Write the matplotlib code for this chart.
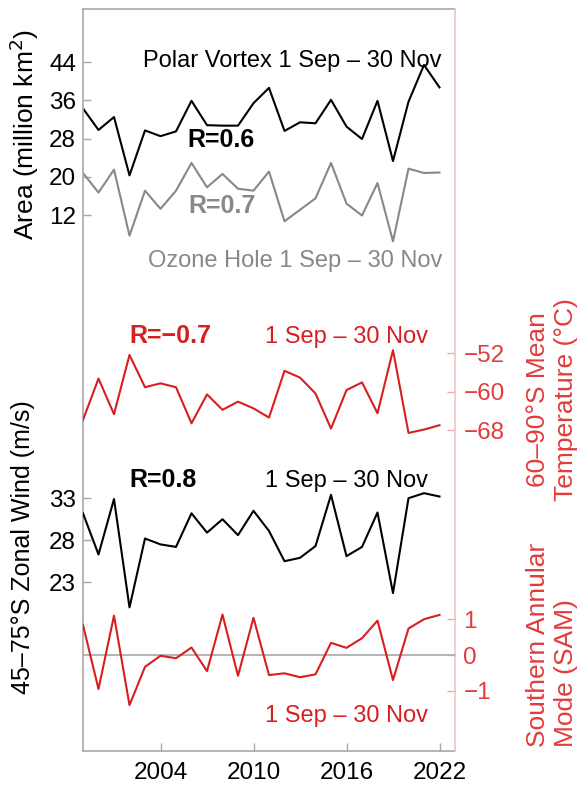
import matplotlib
matplotlib.use('Agg')
import matplotlib.pyplot as plt

plt.rcParams['font.family'] = ['Liberation Sans', 'DejaVu Sans']

# years 1999-2022
years = list(range(1999, 2023))

# polar vortex area and ozone hole area (million km2)
vortex_area = [34.3, 29.8, 32.5, 20.3, 29.7, 28.5, 29.5, 35.9, 30.8, 30.7, 30.7, 35.4,
               38.6, 29.6, 31.4, 31.2, 36.1, 30.5, 27.9, 35.9, 23.3, 35.7, 43.4, 38.7]
ozone_area = [20.8, 16.7, 21.5, 7.7, 17.1, 13.3, 17.1, 22.9, 17.8, 20.6, 17.5, 17.1,
              21.1, 10.7, 13.1, 15.5, 22.9, 14.4, 11.9, 18.7, 6.5, 21.7, 20.8, 20.9]
# 60-90S mean temperature (C)
temperature = [-65.9, -57.3, -64.7, -52.4, -59.1, -58.3, -59.1, -66.6, -60.6, -63.8, -62.1, -63.5,
               -65.4, -55.7, -57.1, -60.4, -67.7, -59.7, -58.1, -64.5, -51.4, -68.6, -67.9, -67.0]
# 45-75S zonal wind (m/s)
zonal_wind = [31.2, 26.3, 32.9, 20.0, 28.2, 27.5, 27.2, 31.2, 28.9, 30.5, 28.6, 31.5,
              29.1, 25.5, 25.9, 27.3, 33.4, 26.1, 27.2, 31.3, 21.7, 33.0, 33.6, 33.2]
# southern annular mode
sam = [0.84, -0.95, 1.10, -1.40, -0.33, -0.02, -0.09, 0.21, -0.45, 1.13, -0.58, 1.04,
       -0.56, -0.51, -0.62, -0.54, 0.34, 0.20, 0.47, 0.96, -0.70, 0.74, 1.00, 1.12]

RED = '#d81e1e'
RED_LIGHT = '#e23c3c'
GRAY = '#888888'
SPINE = '#a8a8a8'

fig = plt.figure(figsize=(5.86, 7.87), dpi=100)
rect = [83 / 586, 1 - 751 / 787, 372 / 586, 742 / 787]

ax_area = fig.add_axes(rect)
ax_temp = fig.add_axes(rect, facecolor='none')
ax_wind = fig.add_axes(rect, facecolor='none')
ax_sam = fig.add_axes(rect, facecolor='none')

for ax in (ax_area, ax_temp, ax_wind, ax_sam):
    ax.set_xlim(1999, 2023)
    for s in ax.spines.values():
        s.set_visible(False)
    ax.tick_params(labelsize=17.5, direction='in', length=6, width=1)

# frame
ax_area.spines['left'].set_visible(True)
ax_area.spines['bottom'].set_visible(True)
ax_area.spines['top'].set_visible(True)
for k in ('left', 'bottom', 'top'):
    ax_area.spines[k].set_color(SPINE)
    ax_area.spines[k].set_linewidth(1.2)
ax_temp.spines['right'].set_visible(True)
ax_temp.spines['right'].set_color('#f2c4c4')
ax_temp.spines['right'].set_linewidth(1.2)

ax_area.set_xticks([2004, 2010, 2016, 2022])
ax_area.tick_params(axis='x', colors=SPINE, labelcolor='black', pad=8)
for ax in (ax_temp, ax_wind, ax_sam):
    ax.set_xticks([])

# area panel
ax_area.plot(years, vortex_area, color='black', lw=1.5)
ax_area.plot(years, ozone_area, color=GRAY, lw=1.5)
ax_area.set_ylim(-100.1, 55.1)
ax_area.set_yticks([12, 20, 28, 36, 44])
ax_area.tick_params(axis='y', colors=SPINE, labelcolor='black', pad=5)

# temperature panel
ax_temp.plot(years, temperature, color=RED, lw=1.5)
ax_temp.set_ylim(-134.7, 19.5)
ax_temp.yaxis.tick_right()
ax_temp.set_yticks([-68, -60, -52])
ax_temp.set_yticklabels(['\u221268', '\u221260', '\u221252'])
ax_temp.tick_params(axis='y', colors='#f0a8a8', labelcolor=RED_LIGHT, pad=6)

# zonal wind panel
ax_wind.plot(years, zonal_wind, color='black', lw=1.5)
ax_wind.set_ylim(2.9, 91.25)
ax_wind.set_yticks([23, 28, 33])
ax_wind.tick_params(axis='y', colors=SPINE, labelcolor='black', pad=5)

# SAM panel
ax_sam.axhline(0, color=SPINE, lw=1.2)
ax_sam.plot(years, sam, color=RED, lw=1.5)
ax_sam.set_ylim(-2.68, 18.04)
ax_sam.yaxis.tick_right()
ax_sam.set_yticks([-1, 0, 1])
ax_sam.set_yticklabels(['\u22121', '0', '1'])
ax_sam.tick_params(axis='y', colors='#f0a8a8', labelcolor=RED_LIGHT, pad=6)

# annotations
t = ax_area.transAxes
ax_area.text(0.965, 0.922, 'Polar Vortex 1 Sep \u2013 30 Nov', transform=t, ha='right', va='baseline', fontsize=17)
ax_area.text(0.280, 0.814, 'R=0.6', transform=t, ha='left', va='baseline', fontsize=18, fontweight='bold')
ax_area.text(0.282, 0.725, 'R=0.7', transform=t, ha='left', va='baseline', fontsize=18, fontweight='bold', color=GRAY)
ax_area.text(0.965, 0.652, 'Ozone Hole 1 Sep \u2013 30 Nov', transform=t, ha='right', va='baseline', fontsize=17, color=GRAY)
ax_area.text(0.126, 0.550, 'R=\u22120.7', transform=t, ha='left', va='baseline', fontsize=18, fontweight='bold', color=RED)
ax_area.text(0.927, 0.550, '1 Sep \u2013 30 Nov', transform=t, ha='right', va='baseline', fontsize=17, color=RED)
ax_area.text(0.126, 0.356, 'R=0.8', transform=t, ha='left', va='baseline', fontsize=18, fontweight='bold')
ax_area.text(0.927, 0.356, '1 Sep \u2013 30 Nov', transform=t, ha='right', va='baseline', fontsize=17)
ax_area.text(0.927, 0.039, '1 Sep \u2013 30 Nov', transform=t, ha='right', va='baseline', fontsize=17, color=RED)

# axis labels
fig.text(24 / 586, 1 - 134 / 787, 'Area (million km$^2$)', rotation=90, ha='center', va='center', fontsize=19)
fig.text(23 / 586, 1 - 547 / 787, '45\u201375\u00b0S Zonal Wind (m/s)', rotation=90, ha='center', va='center', fontsize=18)
fig.text(552 / 586, 1 - 400 / 787, '60\u201390\u00b0S Mean\nTemperature (\u00b0C)', rotation=90,
         ha='center', va='center', multialignment='center', fontsize=19, color=RED_LIGHT, linespacing=1.25)
fig.text(552 / 586, 1 - 747 / 787, 'Southern Annular\nMode (SAM)', rotation=90,
         ha='center', va='bottom', multialignment='left', fontsize=19, color=RED_LIGHT, linespacing=1.25)

fig.savefig('out.png', dpi=100)
